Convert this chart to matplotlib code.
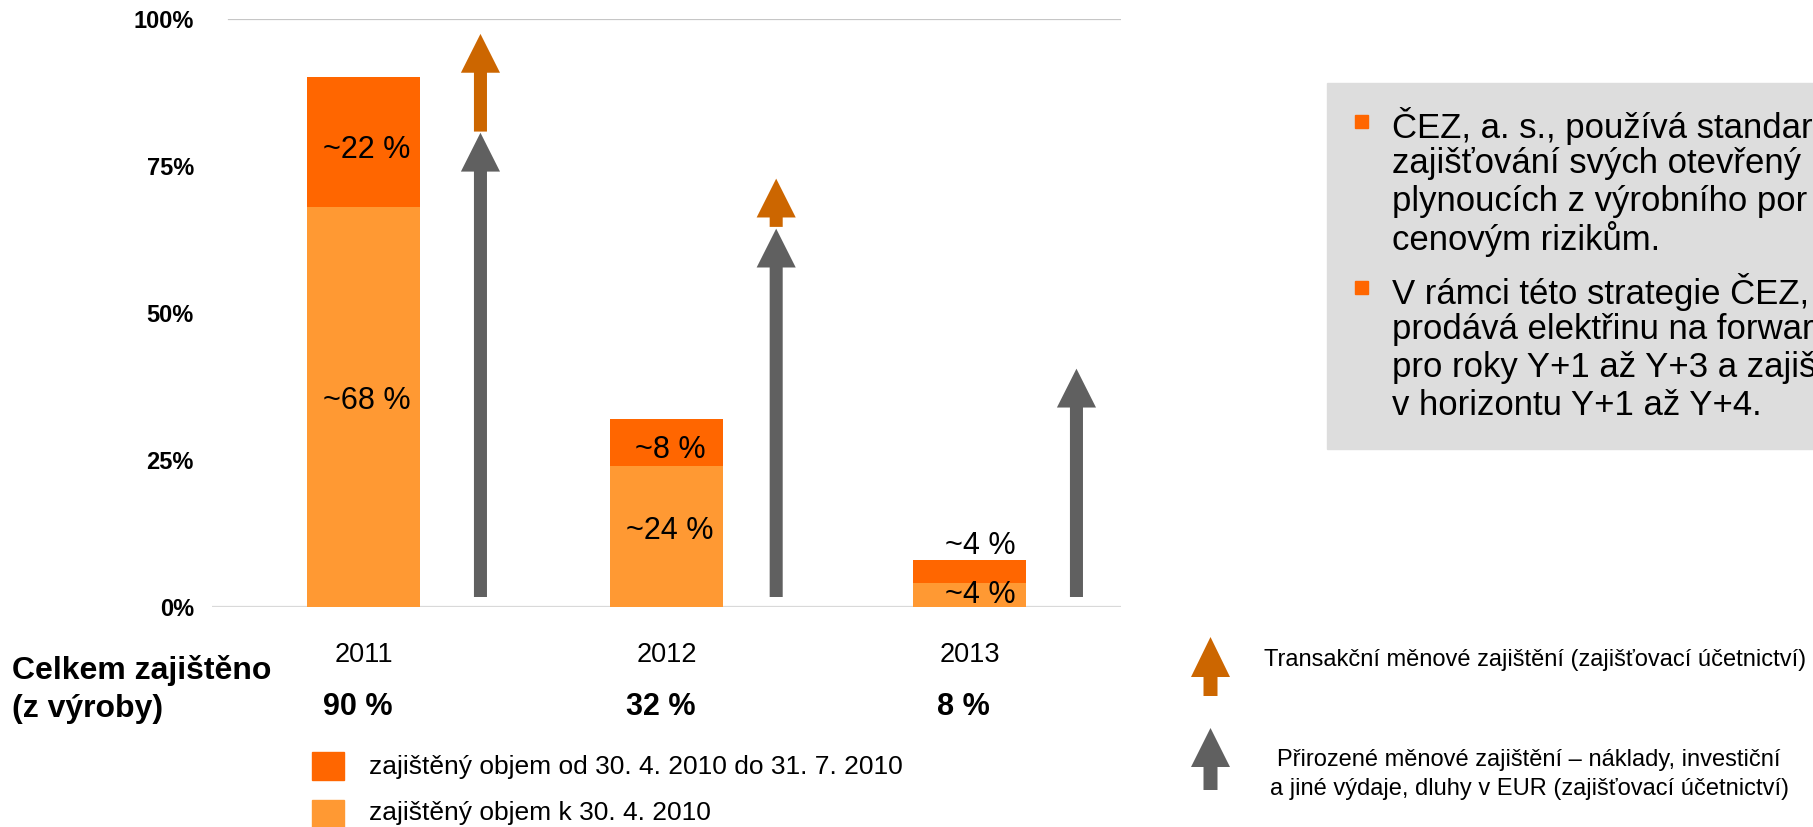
import matplotlib.pyplot as plt
from matplotlib.patches import FancyArrow, Rectangle

plt.rcParams['font.family'] = ['Liberation Sans', 'DejaVu Sans']

# data
years = ['2011', '2012', '2013']
hedged_base = [68, 24, 4]        # zajištěný objem k 30. 4. 2010
hedged_added = [22, 8, 4]        # zajištěný objem od 30. 4. 2010 do 31. 7. 2010
totals = ['90 %', '32 %', '8 %']
base_labels = ['~68 %', '~24 %', '~4 %']
added_labels = ['~22 %', '~8 %', '~4 %']
natural_top = [80.6, 64.3, 40.5]      # grey arrows (natural FX hedge)
trans_from = [80.8, 64.6]             # orange arrows (transaction FX hedge)
trans_to = [97.4, 72.8]
yticks = [0, 25, 50, 75, 100]

# text box on the right is cut by the slide edge in the original
box_lines = [
    ['ČEZ, a. s., používá standar',
     'zajišťování svých otevřený',
     'plynoucích z výrobního por',
     'cenovým rizikům.'],
    ['V rámci této strategie ČEZ,',
     'prodává elektřinu na forwar',
     'pro roky Y+1 až Y+3 a zajiš',
     'v horizontu Y+1 až Y+4.'],
]

DARK = '#FF6600'
LIGHT = '#FF9933'
ARROW_OR = '#CC6600'
ARROW_GR = '#606060'

W, H = 1813, 827
fig = plt.figure(figsize=(W / 100, H / 100), dpi=100)

# main chart, placed in pixels
ax = fig.add_axes([212 / W, 1 - 607 / H, (1121 - 212) / W, (607 - 18.6) / H])
ax.set_xlim(-0.5, 2.5)
ax.set_ylim(0, 100)
for s in ax.spines.values():
    s.set_visible(False)

x = list(range(len(years)))
bw = 0.376
ax.bar(x, hedged_base, width=bw, color=LIGHT, zorder=2)
ax.bar(x, hedged_added, bottom=hedged_base, width=bw, color=DARK, zorder=2)

ax.axhline(100, xmin=0.019, color='#C6C6C6', lw=1.6, zorder=1)
ax.axhline(0, color='#D9D9D9', lw=1.6, zorder=1)

ax.set_yticks(yticks)
ax.set_yticklabels([f'{t}%' for t in yticks], fontsize=17, fontweight='bold')
ax.tick_params(axis='y', length=0, pad=13)
ax.set_xticks([])

# segment labels
for i in x:
    b, a = hedged_base[i], hedged_added[i]
    if a < 5:
        ya = b + a + 2.3
        yb = 2.0
        dx = 0.035
    else:
        ya = b + a / 2 - 1.3
        yb = b / 2 + 1
        dx = 0.012
    ax.text(i + dx, ya, added_labels[i], ha='center', va='center', fontsize=22, zorder=4)
    ax.text(i + dx, yb, base_labels[i], ha='center', va='center', fontsize=22, zorder=4)

# arrows (they drift slightly left from year to year in the original)
arrow_dx = [0.386, 0.362, 0.353]
for i, top in enumerate(natural_top):
    ax.add_patch(FancyArrow(i + arrow_dx[i], 1.7, 0, top - 1.7, width=0.043,
                            head_width=0.129, head_length=6.6, length_includes_head=True,
                            color=ARROW_GR, lw=0, zorder=3))
for i, (y0, y1) in enumerate(zip(trans_from, trans_to)):
    ax.add_patch(FancyArrow(i + arrow_dx[i], y0, 0, y1 - y0, width=0.043,
                            head_width=0.129, head_length=6.6, length_includes_head=True,
                            color=ARROW_OR, lw=0, zorder=3))

# year labels and totals below the axis
for i in x:
    ax.text(i, -8.2, years[i], ha='center', va='center', fontsize=19.5, clip_on=False)
    ax.text(i - 0.02, -17.0, totals[i], ha='center', va='center', fontsize=22,
            fontweight='bold', clip_on=False)

# overlay in pixel coordinates for side texts
ov = fig.add_axes([0, 0, 1, 1])
ov.set_xlim(0, W)
ov.set_ylim(H, 0)
ov.axis('off')
ov.patch.set_visible(False)

ov.text(12, 671, 'Celkem zajištěno', ha='left', va='center', fontsize=23, fontweight='bold')
ov.text(12, 709, '(z výroby)', ha='left', va='center', fontsize=23, fontweight='bold')

# bar legend
ov.add_patch(Rectangle((312, 752), 32, 28, color=DARK))
ov.text(369, 767, 'zajištěný objem od 30. 4. 2010 do 31. 7. 2010', va='center', fontsize=19)
ov.add_patch(Rectangle((312, 800), 32, 27, color=LIGHT))
ov.text(369, 813, 'zajištěný objem k 30. 4. 2010', va='center', fontsize=19)

# arrow legend
ov.add_patch(FancyArrow(1210.5, 696, 0, -59, width=14, head_width=39, head_length=40,
                        length_includes_head=True, color=ARROW_OR, lw=0))
ov.text(1264, 660, 'Transakční měnové zajištění (zajišťovací účetnictví)',
        va='center', fontsize=17)
ov.add_patch(FancyArrow(1210.5, 790, 0, -62, width=14, head_width=39, head_length=39,
                        length_includes_head=True, color=ARROW_GR, lw=0))
ov.text(1529, 760, 'Přirozené měnové zajištění – náklady, investiční',
        ha='center', va='center', fontsize=17)
ov.text(1529, 789, 'a jiné výdaje, dluhy v EUR (zajišťovací účetnictví)',
        ha='center', va='center', fontsize=17)

# grey text box on the right
ov.add_patch(Rectangle((1327, 83), W - 1327, 366, color='#DDDDDD'))
y = 126
for para in box_lines:
    ov.add_patch(Rectangle((1355, y - 11), 13, 13, color=DARK))
    for line in para:
        ov.text(1392, y, line, va='center', fontsize=25)
        y += 37.6
    y += 53.5 - 37.6

fig.savefig('out.png', dpi=100)
